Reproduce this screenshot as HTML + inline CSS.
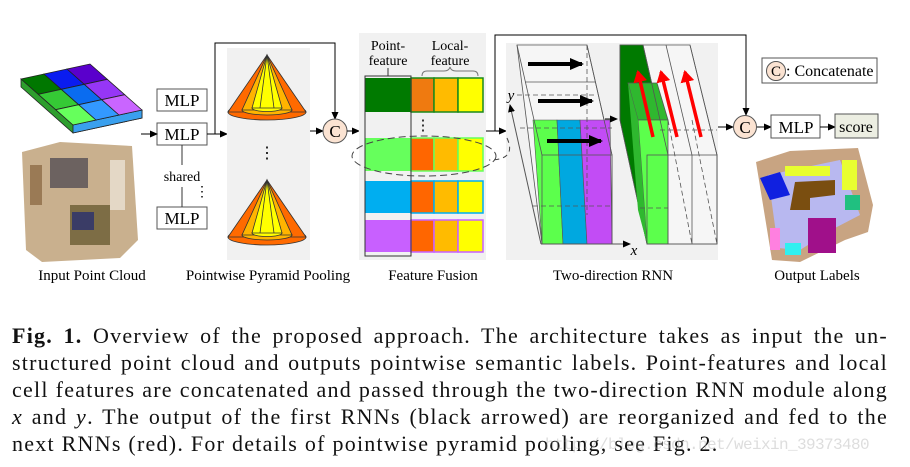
<!DOCTYPE html>
<html><head><meta charset="utf-8"><style>
body{margin:0;background:#fff;width:910px;height:467px;overflow:hidden;position:relative;font-family:"Liberation Serif",serif}
svg{position:absolute;left:0;top:0}
.cap{position:absolute;left:12px;width:876px;font-size:22px;letter-spacing:1.25px;line-height:27px;color:#111;text-align:justify;text-align-last:justify;white-space:nowrap;font-family:"Liberation Serif",serif}
</style></head><body>
<svg width="910" height="300" viewBox="0 0 910 300" font-family="Liberation Serif, serif">
<defs>
<marker id="a" markerWidth="8" markerHeight="8" refX="7" refY="4" orient="auto" markerUnits="userSpaceOnUse"><path d="M0,0.5 L8,4 L0,7.5z" fill="#000"/></marker>
<marker id="ab" markerWidth="14" markerHeight="12" refX="12" refY="6" orient="auto" markerUnits="userSpaceOnUse"><path d="M0,0 L14,6 L0,12z" fill="#000"/></marker>
<marker id="ar" markerWidth="12" markerHeight="14" refX="10" refY="7" orient="auto" markerUnits="userSpaceOnUse"><path d="M0,0 L12,7 L0,14z" fill="#f00"/></marker>
</defs>
<g stroke="#222" stroke-width="0.8">
<polygon points="21,79 73,125 142,110 142,118 73,133 21,87" fill="#2e9e2e"/>
<polygon points="73,125 142,110 142,118 73,133" fill="#3aa0ee"/>
<polygon points="21,79 44,74 61.3,89.3 38.3,94.3" fill="#007700"/>
<polygon points="44,74 67,69 84.3,84.3 61.3,89.3" fill="#0a1cf0"/>
<polygon points="67,69 90,64 107.3,79.3 84.3,84.3" fill="#5a00cc"/>
<polygon points="38.3,94.3 61.3,89.3 78.7,104.7 55.7,109.7" fill="#35c935"/>
<polygon points="61.3,89.3 84.3,84.3 101.7,99.7 78.7,104.7" fill="#0a6cf0"/>
<polygon points="84.3,84.3 107.3,79.3 124.7,94.7 101.7,99.7" fill="#9636f6"/>
<polygon points="55.7,109.7 78.7,104.7 96,120 73,125" fill="#66ff5c"/>
<polygon points="78.7,104.7 101.7,99.7 119,115 96,120" fill="#3399ff"/>
<polygon points="101.7,99.7 124.7,94.7 142,110 119,115" fill="#c965ff"/>
</g>
<polygon points="22,152 60,142 132,146 138,240 120,258 42,262 26,250" fill="#c9b08e"/>
<rect x="50" y="158" width="38" height="30" fill="#6c6260"/>
<rect x="70" y="205" width="40" height="40" fill="#7d6d45"/>
<rect x="72" y="212" width="22" height="18" fill="#3a3c66"/>
<rect x="30" y="165" width="12" height="40" fill="#9a7a55"/>
<rect x="110" y="160" width="15" height="50" fill="#e4d8c6"/>
<g fill="#fff" stroke="#555" stroke-width="1">
<rect x="157" y="89" width="50" height="22"/><rect x="157" y="123" width="50" height="22"/><rect x="157" y="207" width="50" height="22"/>
</g>
<g font-size="17" text-anchor="middle"><text x="182" y="106">MLP</text><text x="182" y="140">MLP</text><text x="182" y="224">MLP</text></g>
<line x1="182" y1="145" x2="182" y2="165" stroke="#333"/><line x1="182" y1="187" x2="182" y2="207" stroke="#333"/>
<text x="182" y="181" font-size="14" text-anchor="middle">shared</text>
<text x="202" y="196" font-size="14" text-anchor="middle">⋮</text>
<line x1="141" y1="134" x2="157" y2="134" stroke="#000" marker-end="url(#a)"/>
<path d="M207,134 H215 V43 H335 V119" fill="none" stroke="#000" marker-end="url(#a)"/>
<line x1="215" y1="134" x2="227" y2="134" stroke="#000" marker-end="url(#a)"/>
<rect x="227" y="48" width="83" height="212" fill="#f1f1f1"/>
<g stroke="#333" stroke-width="0.8">
<g id="cone">
<ellipse cx="267" cy="112" rx="39" ry="8" fill="#ff6a00"/>
<polygon points="267,55 228,112 306,112" fill="#ff6a00"/>
<ellipse cx="267" cy="110" rx="25" ry="5" fill="#ffb400"/>
<polygon points="267,55 242,110 292,110" fill="#ffb400"/>
<ellipse cx="267" cy="108" rx="15" ry="3.5" fill="#ffff00"/>
<polygon points="267,55 252,108 282,108" fill="#ffff00"/>
<line x1="267" y1="55" x2="260" y2="108"/><line x1="267" y1="55" x2="274" y2="108"/>
</g>
<use href="#cone" transform="translate(0,125)"/>
</g>
<text x="267" y="158" font-size="16" text-anchor="middle">⋮</text>
<line x1="310" y1="131" x2="323" y2="131" stroke="#000" marker-end="url(#a)"/>
<circle cx="335" cy="131" r="12" fill="#fbe3d2" stroke="#555"/>
<text x="335" y="137" font-size="17" text-anchor="middle">C</text>
<line x1="347" y1="131" x2="359" y2="131" stroke="#000" marker-end="url(#a)"/>
<rect x="359" y="33" width="127" height="227" fill="#f1f1f1"/>
<text x="388" y="50" font-size="14" text-anchor="middle">Point-</text>
<text x="388" y="65" font-size="14" text-anchor="middle">feature</text>
<text x="450" y="50" font-size="14" text-anchor="middle">Local-</text>
<text x="450" y="65" font-size="14" text-anchor="middle">feature</text>
<path d="M422,76 q0,-5 5,-5 h17 q5,0 6,-4 q1,4 6,4 h17 q5,0 5,5" fill="none" stroke="#777"/>
<line x1="388" y1="68" x2="388" y2="76" stroke="#333"/>
<g stroke-width="1.5">
<rect x="365" y="78" width="46" height="34" fill="#007a00"/>
<rect x="411" y="78" width="23" height="34" fill="#ef7a10" stroke="#1a8a1a"/><rect x="434" y="78" width="24" height="34" fill="#ffbb00" stroke="#1a8a1a"/><rect x="458" y="78" width="25" height="34" fill="#ffff00" stroke="#1a8a1a"/>
<rect x="365" y="138" width="46" height="33" fill="#66ff5c"/>
<rect x="411" y="138" width="23" height="33" fill="#ff6600" stroke="#66ff5c"/><rect x="434" y="138" width="24" height="33" fill="#ffbb00" stroke="#66ff5c"/><rect x="458" y="138" width="25" height="33" fill="#ffff00" stroke="#66ff5c"/>
<rect x="365" y="181" width="46" height="32" fill="#00aef0"/>
<rect x="411" y="181" width="23" height="32" fill="#ff6600" stroke="#00aef0"/><rect x="434" y="181" width="24" height="32" fill="#ffbb00" stroke="#00aef0"/><rect x="458" y="181" width="25" height="32" fill="#ffff00" stroke="#00aef0"/>
<rect x="365" y="220" width="46" height="32" fill="#c860ff"/>
<rect x="411" y="220" width="23" height="32" fill="#ff6600" stroke="#c860ff"/><rect x="434" y="220" width="24" height="32" fill="#ffbb00" stroke="#c860ff"/><rect x="458" y="220" width="25" height="32" fill="#ffff00" stroke="#c860ff"/>
</g>
<rect x="365" y="76" width="46" height="180" fill="none" stroke="#333"/>
<text x="423" y="130" font-size="15" text-anchor="middle">⋮</text>
<ellipse cx="424" cy="156" rx="72" ry="20" fill="none" stroke="#444" stroke-dasharray="7,4"/>
<path d="M486,131 H495 V35 H746 V115" fill="none" stroke="#000" marker-end="url(#a)"/>
<line x1="495" y1="131" x2="506" y2="131" stroke="#000" marker-end="url(#a)"/>
<rect x="506" y="43" width="212" height="217" fill="#f1f1f1"/>
<path d="M507,138 q10,22 -18,22" fill="none" stroke="#444" stroke-dasharray="5,4"/>
<g stroke="#555" stroke-width="0.8" fill="none">
<polygon points="517,45 587,45 612,155 612,244 542,244" fill="#f6f6f6"/>
<line x1="525" y1="82" x2="595" y2="82"/>
</g>
<polygon points="533,120 557,120 563,244 542,244" fill="#5cff4c" stroke="#555" stroke-width="0.6"/>
<polygon points="557,120 580,120 587,244 563,244" fill="#00a8e0" stroke="#555" stroke-width="0.6"/>
<polygon points="580,120 610,120 612,244 587,244" fill="#c24cf5" stroke="#555" stroke-width="0.6"/>
<g stroke="#555" stroke-width="0.8" fill="none">
<rect x="542" y="155" width="70" height="89"/>
<line x1="517" y1="45" x2="542" y2="155"/>
<line x1="587" y1="45" x2="612" y2="155"/>
<g stroke-dasharray="5,3"><line x1="517" y1="95" x2="595" y2="95"/><line x1="520" y1="128" x2="612" y2="128"/><line x1="533" y1="206" x2="612" y2="206"/><line x1="587" y1="45" x2="587" y2="215"/></g>
</g>
<g stroke="#000" stroke-width="4"><line x1="528" y1="64" x2="582" y2="64" marker-end="url(#ab)"/><line x1="538" y1="101" x2="592" y2="101" marker-end="url(#ab)"/><line x1="547" y1="141" x2="601" y2="141" marker-end="url(#ab)"/></g>
<line x1="541" y1="244" x2="630" y2="244" stroke="#555" marker-end="url(#a)"/>
<line x1="541" y1="244" x2="510" y2="105" stroke="#555" marker-end="url(#a)"/>
<text x="511" y="100" font-size="15" font-style="italic" text-anchor="middle">y</text>
<text x="634" y="255" font-size="15" font-style="italic" text-anchor="middle">x</text>
<line x1="605" y1="119" x2="617" y2="119" stroke="#000" marker-end="url(#a)"/>
<g stroke="#555" stroke-width="0.8">
<polygon points="620,45 690,45 717,155 717,244 647,244 620,120" fill="#f6f6f6"/>
<polygon points="620,45 643,45 660,120 647,155 647,244 620,120" fill="#007a00"/>
<polygon points="628,83 657,83 668,120 638,120" fill="#2fb82f"/>
<polygon points="638,120 668,120 668,244 647,244" fill="#5cff4c"/>
<polygon points="628,83 638,120 647,244 638,210" fill="#2fb82f" stroke="none"/>
<rect x="647" y="155" width="70" height="89" fill="none"/>
<line x1="668" y1="155" x2="668" y2="244"/><line x1="692" y1="155" x2="692" y2="244"/>
<line x1="643" y1="45" x2="668" y2="155"/><line x1="666" y1="45" x2="692" y2="155"/><line x1="690" y1="45" x2="717" y2="155"/>
<g stroke-dasharray="5,3" fill="none"><line x1="660" y1="130" x2="717" y2="130"/><line x1="640" y1="208" x2="668" y2="208"/><line x1="668" y1="120" x2="692" y2="244"/><line x1="692" y1="120" x2="717" y2="244"/></g>
</g>
<g stroke="#f00" stroke-width="3.5"><line x1="653" y1="137" x2="638" y2="72" marker-end="url(#ar)"/><line x1="677" y1="137" x2="661" y2="72" marker-end="url(#ar)"/><line x1="701" y1="137" x2="685" y2="72" marker-end="url(#ar)"/></g>
<line x1="718" y1="127" x2="733" y2="127" stroke="#000" marker-end="url(#a)"/>
<circle cx="745" cy="127" r="11.5" fill="#fbe3d2" stroke="#555"/>
<text x="745" y="133" font-size="17" text-anchor="middle">C</text>
<line x1="757" y1="127" x2="771" y2="127" stroke="#000" marker-end="url(#a)"/>
<rect x="771" y="115" width="49" height="23" fill="#fff" stroke="#555"/>
<text x="796" y="133" font-size="17" text-anchor="middle">MLP</text>
<line x1="820" y1="127" x2="835" y2="127" stroke="#000" marker-end="url(#a)"/>
<rect x="835" y="114" width="43" height="24" fill="#eceee2" stroke="#555"/>
<text x="856" y="132" font-size="16" text-anchor="middle">score</text>
<rect x="762" y="58" width="115" height="25" fill="#fff" stroke="#555"/>
<circle cx="776" cy="71" r="9.5" fill="#fbe3d2" stroke="#555"/>
<text x="776" y="76" font-size="15" text-anchor="middle">C</text>
<text x="786" y="76" font-size="16">: Concatenate</text>
<polygon points="756,162 790,151 858,148 873,205 868,232 845,240 800,262 772,260" fill="#c8a482"/>
<polygon points="768,175 840,160 860,215 835,228 800,250 778,248" fill="#b8b8f0"/>
<rect x="785" y="166" width="45" height="10" fill="#e8ff30"/>
<polygon points="760,178 780,172 790,195 770,200" fill="#1020e0"/>
<polygon points="795,182 835,180 835,195 810,198 810,210 790,210" fill="#7a4e10"/>
<rect x="808" y="218" width="28" height="35" fill="#a0108a"/>
<rect x="785" y="243" width="16" height="12" fill="#30f0f0"/>
<rect x="842" y="160" width="15" height="30" fill="#e8ff30"/>
<rect x="845" y="195" width="15" height="15" fill="#20c080"/>
<rect x="770" y="228" width="10" height="22" fill="#ff80e0"/>
<g font-size="15" text-anchor="middle"><text x="92" y="280">Input Point Cloud</text><text x="268" y="280">Pointwise Pyramid Pooling</text><text x="433" y="280">Feature Fusion</text><text x="613" y="280">Two-direction RNN</text><text x="817" y="280">Output Labels</text></g>
</svg>
<div class="cap" style="top:322px"><b>Fig. 1.</b> Overview of the proposed approach. The architecture takes as input the un-</div>
<div class="cap" style="top:349px">structured point cloud and outputs pointwise semantic labels. Point-features and local</div>
<div class="cap" style="top:376px">cell features are concatenated and passed through the two-direction RNN module along</div>
<div class="cap" style="top:403px"><i>x</i> and <i>y</i>. The output of the first RNNs (black arrowed) are reorganized and fed to the</div>
<div class="cap" style="top:430px;text-align-last:left">next RNNs (red). For details of pointwise pyramid pooling, see Fig. 2.</div>
<div style="position:absolute;left:545px;top:436px;font-family:'Liberation Mono',monospace;font-size:16px;letter-spacing:-0.6px;color:rgba(170,170,170,0.4)">http://blog.csdn.net/weixin_39373480</div>
</body></html>
